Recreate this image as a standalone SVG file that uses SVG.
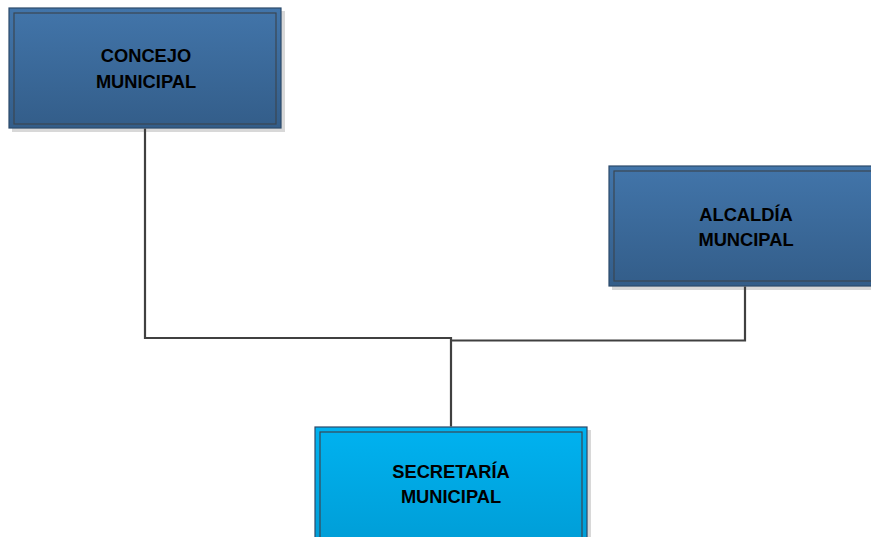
<svg xmlns="http://www.w3.org/2000/svg" width="871" height="537" viewBox="0 0 871 537">
<defs>
<linearGradient id="gDark" x1="0" y1="0" x2="0" y2="1">
<stop offset="0" stop-color="#4275aa"/>
<stop offset="1" stop-color="#335d89"/>
</linearGradient>
<linearGradient id="gLight" x1="0" y1="0" x2="0" y2="1">
<stop offset="0" stop-color="#00b2f0"/>
<stop offset="1" stop-color="#009dd6"/>
</linearGradient>
</defs>
<style>
.shadow{fill:#d8d8d8}
.outer{stroke:#2c4a6a;stroke-width:1.2}
.inner{fill:none;stroke:#3b4652;stroke-width:1.2}
.lbl{font-family:"Liberation Sans",Arial,sans-serif;font-weight:bold;font-size:18.3px;fill:#000;text-anchor:middle}
.conn{fill:none;stroke:#404040;stroke-width:2.2}
</style>
<rect width="871" height="537" fill="#ffffff"/>
<g id="concejo">
<rect class="shadow" x="12" y="11" width="273" height="121"/>
<rect class="outer" x="9" y="8" width="272" height="120" fill="url(#gDark)"/>
<rect class="inner" x="14" y="13" width="262" height="111"/>
<text class="lbl" x="146" y="62">CONCEJO</text>
<text class="lbl" x="146" y="88">MUNICIPAL</text>
</g>
<g id="alcaldia">
<rect class="shadow" x="612" y="169" width="270" height="121"/>
<rect class="outer" x="609" y="166" width="270" height="120" fill="url(#gDark)"/>
<rect class="inner" x="614" y="171" width="260" height="110"/>
<text class="lbl" x="746" y="221">ALCALDÍA</text>
<text class="lbl" x="746" y="246">MUNCIPAL</text>
</g>
<g id="secretaria">
<rect class="shadow" x="318" y="430" width="273" height="120"/>
<rect class="outer" x="315" y="427" width="272" height="120" fill="url(#gLight)"/>
<rect class="inner" x="320" y="432" width="262" height="110"/>
<text class="lbl" x="451" y="478">SECRETARÍA</text>
<text class="lbl" x="451" y="503">MUNICIPAL</text>
</g>
<g id="connectors">
<polyline class="conn" points="145,128.6 145,338 451,338 451,426.4"/>
<polyline class="conn" points="451,340.5 745,340.5 745,286.6"/>
</g>
</svg>
